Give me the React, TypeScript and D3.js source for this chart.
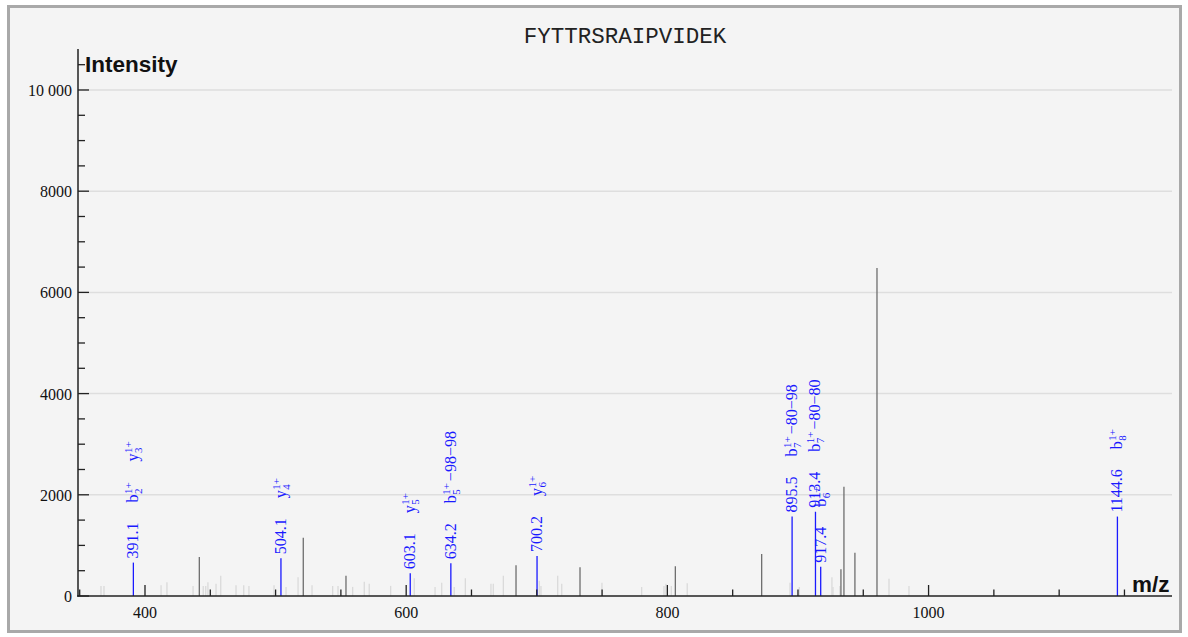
import React, { useEffect, useRef } from "react";
import * as d3 from "d3";

const TITLE = "FYTTRSRAIPVIDEK";
const X_TICK_VALUES = [350, 400, 450, 500, 550, 600, 650, 700, 750, 800, 850, 900, 950, 1000, 1050, 1100, 1150];
const X_TICK_LABELS = [400, 600, 800, 1000];
const Y_TICK_VALUES = [0, 500, 1000, 1500, 2000, 2500, 3000, 3500, 4000, 4500, 5000, 5500, 6000, 6500, 7000, 7500, 8000, 8500, 9000, 9500, 10000, 10500];
const Y_TICK_LABELS = [0, 2000, 4000, 6000, 8000, 10000];
const Y_TICK_TEXT = ["0", "2000", "4000", "6000", "8000", "10 000"];

// unannotated peaks (dark)
const PEAK_MZ = [441.6, 521.2, 553.9, 684.1, 733.1, 806.1, 872.2, 932.9, 935.2, 943.6, 960.5];
const PEAK_INT = [770, 1150, 400, 610, 570, 590, 830, 530, 2160, 855, 6480];

// low-level peaks (light)
const NOISE_MZ = [366.3, 368.6, 412.3, 416.8, 436.8, 444.6, 446.5, 448.2, 454.4, 458.0, 469.7, 475.6, 479.6, 498.8, 508.0, 517.2, 527.9, 543.7, 547.8, 559.0, 567.9, 571.7, 588.1, 606.2, 622.1, 627.2, 636.8, 645.3, 664.9, 666.7, 674.4, 701.9, 703.2, 716.0, 719.1, 749.9, 780.3, 797.4, 798.9, 803.0, 815.2, 893.9, 901.0, 926.0, 926.8, 932.1, 969.7, 985.0];
const NOISE_INT = [200, 200, 210, 270, 200, 200, 200, 270, 240, 400, 210, 210, 200, 210, 180, 370, 210, 200, 200, 180, 280, 240, 200, 350, 180, 260, 180, 350, 240, 240, 400, 300, 200, 400, 240, 260, 180, 200, 240, 200, 250, 260, 180, 370, 180, 200, 340, 200];

// annotated peaks (blue)
const ANNOT_MZ = [391.1, 504.1, 603.1, 634.2, 700.2, 895.5, 913.4, 917.4, 1144.6];
const ANNOT_INT = [660, 745, 450, 645, 790, 1570, 1665, 580, 1570];
const ANNOT_LABELS = ["391.1", "504.1", "603.1", "634.2", "700.2", "895.5", "913.4", "917.4", "1144.6"];
const ANNOT_IONS: string[][][] = [
  [["b", "2", "1+", ""], ["y", "3", "1+", ""]],
  [["y", "4", "1+", ""]],
  [["y", "5", "1+", ""]],
  [["b", "5", "1+", "\u221298\u221298"]],
  [["y", "6", "1+", ""]],
  [["b", "7", "1+", "\u221280\u221298"]],
  [["b", "7", "1+", "\u221280\u221280"]],
  [["b", "6", "1+", ""]],
  [["b", "8", "1+", ""]],
];

const W = 1188;
const H = 637;
const SERIF = "'Liberation Serif', 'Times New Roman', serif";
const SANS = "'Liberation Sans', Arial, sans-serif";
const MONO = "'Liberation Mono', 'Courier New', monospace";
const BLUE = "#1a1aff";

export default function App() {
  const ref = useRef<SVGSVGElement | null>(null);

  useEffect(() => {
    const svg = d3.select(ref.current as SVGSVGElement);
    svg.selectAll("*").remove();

    const x = d3.scaleLinear().domain([348.7, 1186.4]).range([78, 1172]);
    const y = d3.scaleLinear().domain([0, 10810]).range([596, 49]);

    // frame
    svg.append("rect").attr("x", 0).attr("y", 0).attr("width", W).attr("height", H).attr("fill", "#ffffff");
    svg.append("rect")
      .attr("x", 8.5).attr("y", 6.5).attr("width", 1172).attr("height", 625)
      .attr("fill", "#f4f4f4").attr("stroke", "#a9a9a9").attr("stroke-width", 3);

    // gridlines
    svg.append("g").selectAll("line").data(Y_TICK_LABELS.filter((v) => v > 0)).join("line")
      .attr("x1", 78).attr("x2", 1172)
      .attr("y1", (d) => y(d)).attr("y2", (d) => y(d))
      .attr("stroke", "#dedede").attr("stroke-width", 1.5);

    // noise peaks
    svg.append("g").selectAll("line").data(NOISE_MZ).join("line")
      .attr("x1", (d) => x(d)).attr("x2", (d) => x(d))
      .attr("y1", y(0)).attr("y2", (d, i) => y(NOISE_INT[i]))
      .attr("stroke", "#dadada").attr("stroke-width", 1.3);

    // unannotated peaks
    svg.append("g").selectAll("line").data(PEAK_MZ).join("line")
      .attr("x1", (d) => x(d)).attr("x2", (d) => x(d))
      .attr("y1", y(0)).attr("y2", (d, i) => y(PEAK_INT[i]))
      .attr("stroke", "#6e6e6e").attr("stroke-width", 1.3);

    // annotated peaks
    svg.append("g").selectAll("line").data(ANNOT_MZ).join("line")
      .attr("x1", (d) => x(d)).attr("x2", (d) => x(d))
      .attr("y1", y(0)).attr("y2", (d, i) => y(ANNOT_INT[i]))
      .attr("stroke", BLUE).attr("stroke-width", 1.3);

    // y axis
    const ya = svg.append("g");
    ya.append("line").attr("x1", 78).attr("x2", 78).attr("y1", 49).attr("y2", 596.5)
      .attr("stroke", "#222").attr("stroke-width", 1.5);
    ya.selectAll("line.t").data(Y_TICK_VALUES).join("line").attr("class", "t")
      .attr("x1", 78).attr("x2", (d) => (Y_TICK_LABELS.includes(d) ? 89 : 85))
      .attr("y1", (d) => y(d)).attr("y2", (d) => y(d))
      .attr("stroke", "#222").attr("stroke-width", 1.3);
    ya.selectAll("text").data(Y_TICK_LABELS).join("text")
      .attr("x", 72).attr("y", (d) => y(d) + 6)
      .attr("text-anchor", "end").attr("font-family", SERIF).attr("font-size", 16).attr("fill", "#111")
      .text((d, i) => Y_TICK_TEXT[i]);

    // x axis
    const xa = svg.append("g");
    xa.append("line").attr("x1", 77).attr("x2", 1172).attr("y1", 596).attr("y2", 596)
      .attr("stroke", "#222").attr("stroke-width", 1.5);
    xa.selectAll("line.t").data(X_TICK_VALUES).join("line").attr("class", "t")
      .attr("x1", (d) => x(d)).attr("x2", (d) => x(d))
      .attr("y1", 596).attr("y2", (d) => (X_TICK_LABELS.includes(d) ? 585 : 589.5))
      .attr("stroke", "#222").attr("stroke-width", 1.3);
    xa.selectAll("text").data(X_TICK_LABELS).join("text")
      .attr("x", (d) => x(d)).attr("y", 618)
      .attr("text-anchor", "middle").attr("font-family", SERIF).attr("font-size", 16).attr("fill", "#111")
      .text((d) => String(d));

    // titles
    svg.append("text").attr("x", 625).attr("y", 43).attr("text-anchor", "middle")
      .attr("font-family", MONO).attr("font-size", 22.5).attr("fill", "#222").text(TITLE);
    svg.append("text").attr("x", 85).attr("y", 72)
      .attr("font-family", SANS).attr("font-weight", "bold").attr("font-size", 22.5).attr("fill", "#111").text("Intensity");
    svg.append("text").attr("x", 1132).attr("y", 592)
      .attr("font-family", SANS).attr("font-weight", "bold").attr("font-size", 22.5).attr("fill", "#111").text("m/z");

    // peak labels
    ANNOT_MZ.forEach((mz, i) => {
      const g = svg.append("g")
        .attr("transform", `translate(${x(mz)},${y(ANNOT_INT[i]) - 4}) rotate(-90)`)
        .attr("font-family", SERIF).attr("fill", BLUE);
      const t = g.append("text").attr("x", 0).attr("y", 5).attr("font-size", 16).text(ANNOT_LABELS[i]);
      let pos = (t.node() as SVGTextElement).getComputedTextLength() + 20;
      ANNOT_IONS[i].forEach(([ion, sub, sup, loss]) => {
        const tb = g.append("text").attr("x", pos).attr("y", 5).attr("font-size", 16).text(ion);
        let p = pos + (tb.node() as SVGTextElement).getComputedTextLength() + 0.5;
        const ts = g.append("text").attr("x", p).attr("y", -1).attr("font-size", 11).text(sup);
        const tu = g.append("text").attr("x", p).attr("y", 9).attr("font-size", 11).text(sub);
        p += Math.max(
          (ts.node() as SVGTextElement).getComputedTextLength(),
          (tu.node() as SVGTextElement).getComputedTextLength()
        );
        if (loss) {
          const tl = g.append("text").attr("x", p + 2).attr("y", 5).attr("font-size", 16).text(loss);
          p += 2 + (tl.node() as SVGTextElement).getComputedTextLength();
        }
        pos = p + 21;
      });
    });
  }, []);

  return (
    <svg
      ref={ref}
      width={W}
      height={H}
      style={{ position: "absolute", left: 0, top: 0, display: "block" }}
    />
  );
}
